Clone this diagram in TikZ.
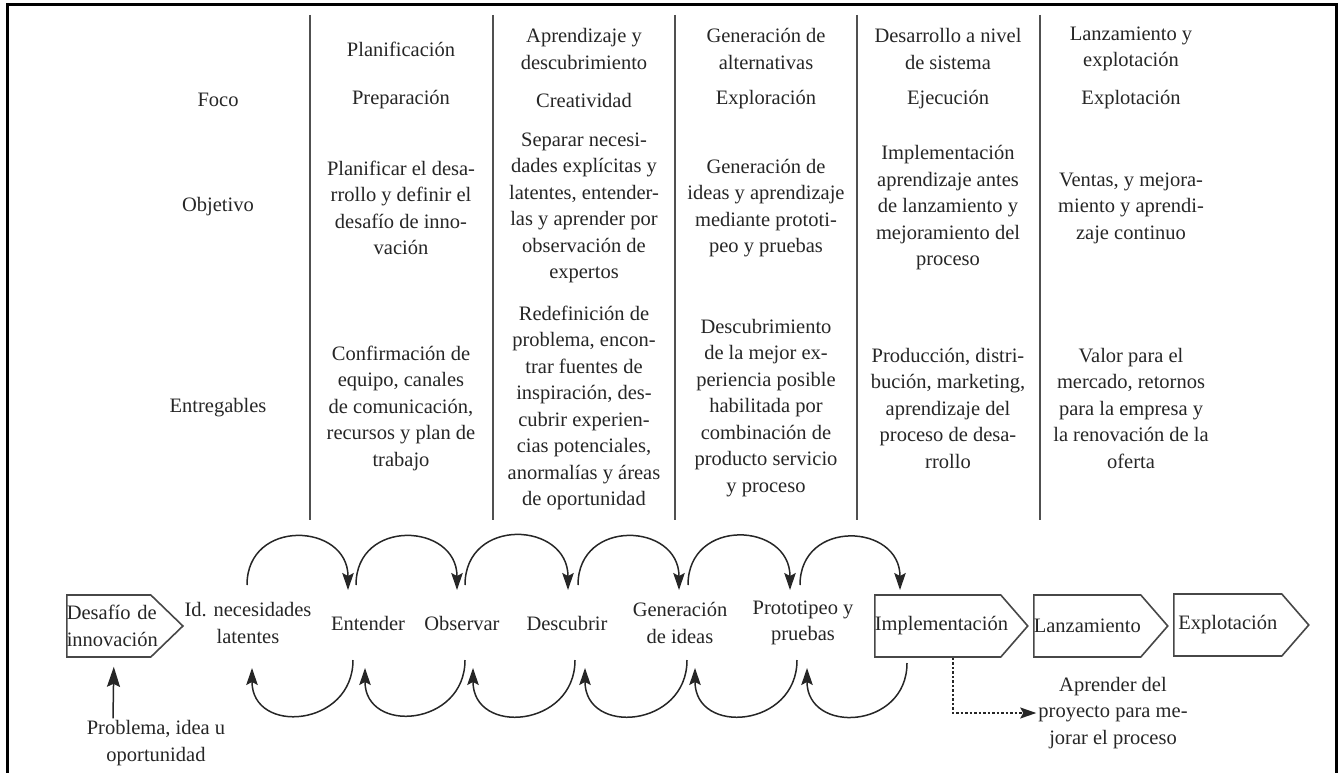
\documentclass[tikz,border=0pt]{standalone}
\usepackage{fontspec}
\setmainfont{Liberation Serif}
\usetikzlibrary{arrows.meta,shapes.symbols}
\definecolor{ink}{HTML}{262626}
\definecolor{rulegray}{HTML}{505050}

\begin{document}
\begin{tikzpicture}[
  x=1pt, y=-1pt,
  txt/.style     = {font=\fontsize{20.5}{26.5}\selectfont, text=ink, align=center, inner sep=2pt},
  stage/.style   = {txt, signal, signal to=east, signal pointer angle=98, draw=ink!85,
                    line width=1.6pt, minimum height=62pt, inner xsep=0pt, anchor=west},
  colrule/.style = {rulegray, line width=2.2pt},
  hoparr/.style  = {-{Stealth[length=17pt,width=11.5pt,inset=3pt]}, line width=1.5pt, ink, looseness=1.7},
  arr/.style     = {-{Stealth[length=20pt,width=13pt,inset=3pt]}, line width=1.5pt, ink},
  dasharr/.style = {-{Stealth[length=16pt,width=11pt,inset=3pt]}, line width=1.5pt, ink, dash pattern=on 2.5pt off 2pt},
]
\useasboundingbox (0,0) rectangle (1341,773);
% frame and column rules
\draw[line width=3pt] (7,773) |- (1336,5) -- (1336,773);
\foreach \x in {310,493,675,857,1040}
  \draw[colrule] (\x,15) -- (\x,520);
% row labels
\node[txt] (foco)   at (218,100) {Foco};
\node[txt] (obj)    at (218,207) {Objetivo};
\node[txt] (entreg) at (218,408) {Entregables};
% stage headers
\node[txt] (h1) at (401,49) {Planificación};
\node[txt] (h2) at (584,49) {Aprendizaje y\\descubrimiento};
\node[txt] (h3) at (766,49) {Generación de\\alternativas};
\node[txt] (h4) at (948,49) {Desarrollo a nivel\\de sistema};
\node[txt] (h5) at (1131,49) {Lanzamiento y\\explotación};
% focus row
\node[txt] (f1) at (401,100) {Preparación};
\node[txt] (f2) at (584,100) {Creatividad};
\node[txt] (f3) at (766,100) {Exploración};
\node[txt] (f4) at (948,100) {Ejecución};
\node[txt] (f5) at (1131,100) {Explotación};
% objective row
\node[txt] (o1) at (401,208) {Planificar el desa-\\rrollo y definir el\\desafío de inno-\\vación};
\node[txt] (o2) at (584,208) {Separar necesi-\\dades explícitas y\\latentes, entender-\\las y aprender por\\observación de\\expertos};
\node[txt] (o3) at (766,208) {Generación de\\ideas y aprendizaje\\mediante prototi-\\peo y pruebas};
\node[txt] (o4) at (948,208) {Implementación\\aprendizaje antes\\de lanzamiento y\\mejoramiento del\\proceso};
\node[txt] (o5) at (1131,208) {Ventas, y mejora-\\miento y aprendi-\\zaje continuo};
% deliverables row
\node[txt] (e1) at (401,408) {Confirmación de\\equipo, canales\\de comunicación,\\recursos y plan de\\trabajo};
\node[txt] (e2) at (584,408) {Redefinición de\\problema, encon-\\trar fuentes de\\inspiración, des-\\cubrir experien-\\cias potenciales,\\anormalías y áreas\\de oportunidad};
\node[txt] (e3) at (766,408) {Descubrimiento\\de la mejor ex-\\periencia posible\\habilitada por\\combinación de\\producto servicio\\y proceso};
\node[txt] (e4) at (948,408) {Producción, distri-\\bución, marketing,\\aprendizaje del\\proceso de desa-\\rrollo};
\node[txt] (e5) at (1131,408) {Valor para el\\mercado, retornos\\para la empresa y\\la renovación de la\\oferta};
% process flow
\node[stage, text width=84pt, signal pointer angle=88] (des) at (66,626) {\mbox{Desafío de}\\\mbox{innovación}};
\node[txt] (idn) at (248,623) {Id. necesidades\\latentes};
\node[txt] (ent) at (368,623) {Entender};
\node[txt] (obs) at (462,623) {Observar};
\node[txt] (dsc) at (567,623) {Descubrir};
\node[txt] (gen) at (680,623) {Generación\\de ideas};
\node[txt] (pro) at (803,623) {Prototipeo y\\pruebas};
\node[stage, text width=126pt] (imp)  at (874,626) {\mbox{Implementación}};
\node[stage, text width=107pt] (lan)  at (1033,626) {\mbox{Lanzamiento}};
\node[stage, text width=108pt] (expl) at (1173,625) {Explotación};
\node[txt] (prob) at (156,743) {Problema, idea u\\oportunidad};
\node[txt] (apr)  at (1113,713) {Aprender del\\proyecto para me-\\jorar el proceso};
% forward hops
\draw[hoparr] ([shift={(-1pt,38pt)}]idn.center) to[out=90,in=90] ([shift={(-20pt,33pt)}]ent.center);
\draw[hoparr] ([shift={(-12pt,38pt)}]ent.center) to[out=90,in=90] ([shift={(-5pt,33pt)}]obs.center);
\draw[hoparr] ([shift={(3pt,38pt)}]obs.center) to[out=90,in=90] ([shift={(1pt,33pt)}]dsc.center);
\draw[hoparr] ([shift={(11pt,38pt)}]dsc.center) to[out=90,in=90] ([shift={(-1pt,33pt)}]gen.center);
\draw[hoparr] ([shift={(8pt,38pt)}]gen.center) to[out=90,in=90] ([shift={(-13pt,33pt)}]pro.center);
\draw[hoparr] ([shift={(-3pt,38pt)}]pro.center) to[out=90,in=90] ([shift={(26pt,36pt)}]imp.west);
% backward hops
\draw[hoparr] ([shift={(-15pt,-37pt)}]ent.center) to[out=-90,in=-90] ([shift={(4pt,-45pt)}]idn.center);
\draw[hoparr] ([shift={(3pt,-37pt)}]obs.center) to[out=-90,in=-90] ([shift={(-3pt,-45pt)}]ent.center);
\draw[hoparr] ([shift={(8pt,-37pt)}]dsc.center) to[out=-90,in=-90] ([shift={(11pt,-45pt)}]obs.center);
\draw[hoparr] ([shift={(7pt,-37pt)}]gen.center) to[out=-90,in=-90] ([shift={(18pt,-45pt)}]dsc.center);
\draw[hoparr] ([shift={(-6pt,-37pt)}]pro.center) to[out=-90,in=-90] ([shift={(15pt,-45pt)}]gen.center);
\draw[hoparr] ([shift={(33pt,-37pt)}]imp.west) to[out=-90,in=-90] ([shift={(4pt,-45pt)}]pro.center);
% inputs and feedback
\draw[arr] ([xshift=-43pt]prob.north) -- ([xshift=5pt,yshift=-9pt]des.south);
\draw[dasharr] ([xshift=15pt]imp.south) |- (apr.west);
\end{tikzpicture}
\end{document}
